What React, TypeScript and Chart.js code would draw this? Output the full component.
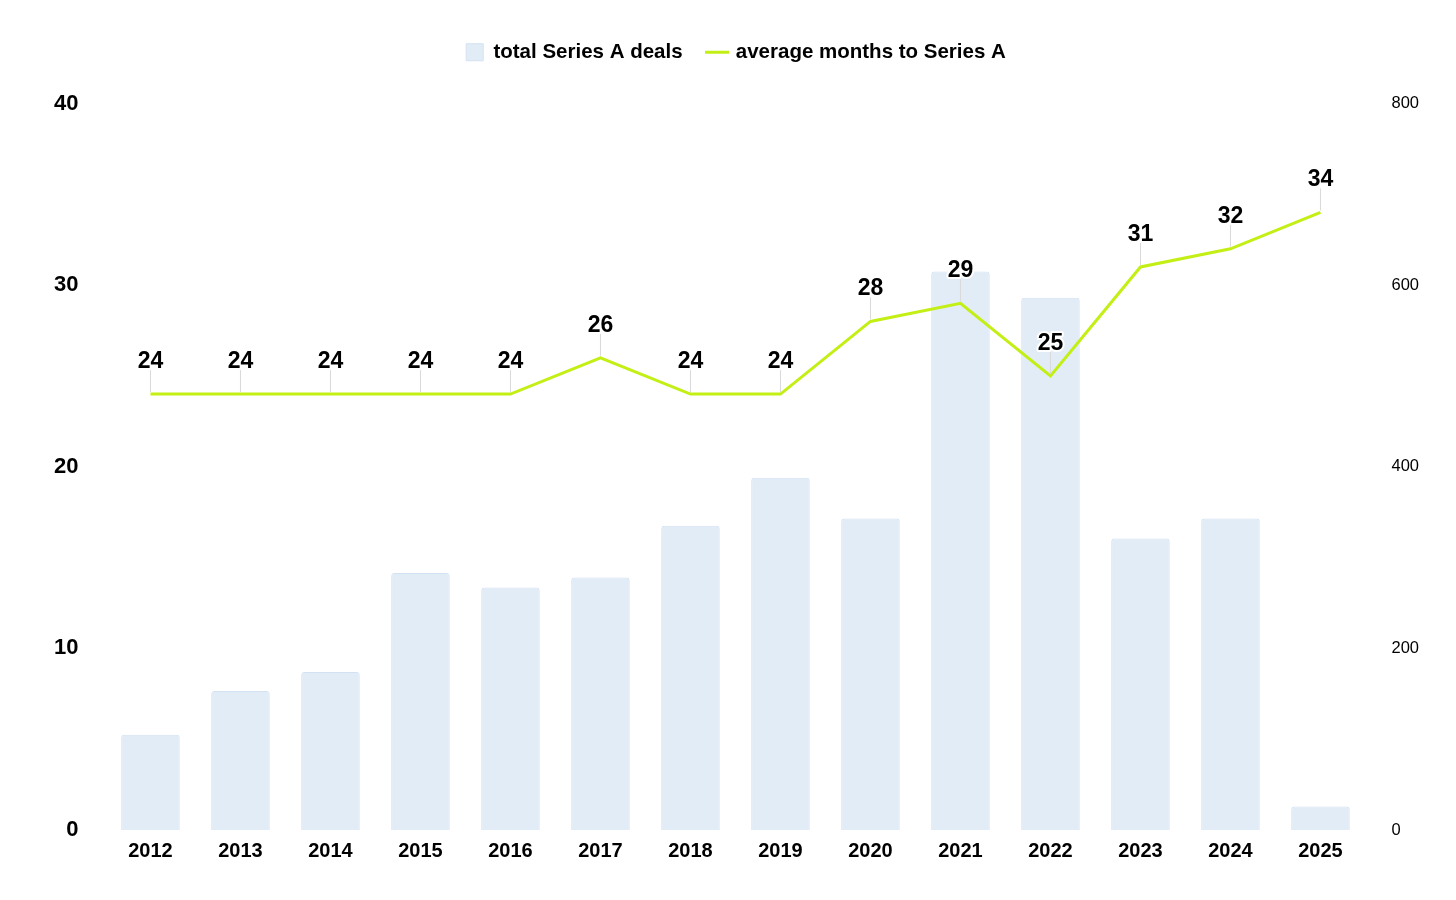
import { useEffect, useRef } from 'react'
import Chart from 'chart.js/auto'

const years = ['2012', '2013', '2014', '2015', '2016', '2017', '2018', '2019', '2020', '2021', '2022', '2023', '2024', '2025']
const totalDeals = [105, 153, 174, 283, 267, 278, 335, 388, 343, 615, 586, 321, 343, 26]
const avgMonths = [24, 24, 24, 24, 24, 26, 24, 24, 28, 29, 25, 31, 32, 34]

const FONT = '"Liberation Sans", Arial, sans-serif'

// labels above each point of the line, with a thin leader line
const pointLabels = {
  id: 'pointLabels',
  afterDatasetsDraw(chart: any) {
    const meta = chart.getDatasetMeta(1)
    const ctx = chart.ctx
    ctx.save()
    meta.data.forEach((pt: any, i: number) => {
      const x = pt.x
      const y = pt.y
      ctx.strokeStyle = '#d9d9d9'
      ctx.lineWidth = 1
      ctx.beginPath()
      ctx.moveTo(x, y - 2)
      ctx.lineTo(x, y - 24)
      ctx.stroke()
      ctx.font = `bold 23px ${FONT}`
      ctx.textAlign = 'center'
      ctx.textBaseline = 'alphabetic'
      ctx.lineJoin = 'round'
      ctx.strokeStyle = '#ffffff'
      ctx.lineWidth = 4
      const t = String(avgMonths[i])
      ctx.strokeText(t, x, y - 26)
      ctx.fillStyle = '#000000'
      ctx.fillText(t, x, y - 26)
    })
    ctx.restore()
  },
}

// extra room between legend and plot
const legendGap = {
  id: 'legendGap',
  beforeInit(chart: any) {
    const fit = chart.legend.fit
    chart.legend.fit = function () {
      fit.bind(chart.legend)()
      this.height += 31
    }
  },
}

const ComboChart = () => {
  const chartRef = useRef<any>(null)

  useEffect(() => {
    const ctx = chartRef.current.getContext('2d')
    const chart = new Chart(ctx, {
      type: 'bar',
      data: {
        labels: years,
        datasets: [
          {
            type: 'bar',
            label: 'total Series A deals',
            data: totalDeals,
            yAxisID: 'yDeals',
            backgroundColor: '#e1ecf7',
            borderColor: '#d3e2f2',
            borderWidth: 1,
            borderRadius: 3,
            borderSkipped: 'bottom',
            categoryPercentage: 1,
            barPercentage: 0.65,
            pointStyle: 'rect',
            order: 2,
          },
          {
            type: 'line',
            label: 'average months to Series A',
            data: avgMonths,
            yAxisID: 'yMonths',
            borderColor: '#c3ef14',
            backgroundColor: '#c3ef14',
            borderWidth: 3,
            pointRadius: 0,
            tension: 0,
            pointStyle: 'line',
            order: 1,
          },
        ],
      },
      options: {
        animation: false,
        responsive: true,
        maintainAspectRatio: false,
        layout: { padding: { top: 8, left: 27, right: 11, bottom: 28 } },
        plugins: {
          legend: {
            position: 'top',
            labels: {
              usePointStyle: true,
              boxWidth: 17,
              boxHeight: 17,
              padding: 26,
              color: '#000',
              font: { family: FONT, size: 20.5, weight: 'bold' },
              sort: (a: any, b: any) => a.datasetIndex - b.datasetIndex,
            },
          },
          tooltip: { enabled: false },
        },
        scales: {
          x: {
            grid: { display: false },
            border: { display: false },
            ticks: {
              color: '#000',
              padding: 1,
              font: { family: FONT, size: 20, weight: 'bold' },
            },
          },
          yMonths: {
            position: 'left',
            min: 0,
            max: 40,
            grid: { display: false },
            border: { display: false },
            ticks: {
              stepSize: 10,
              color: '#000',
              padding: 19,
              font: { family: FONT, size: 22, weight: 'bold' },
            },
          },
          yDeals: {
            position: 'right',
            min: 0,
            max: 800,
            grid: { display: false },
            border: { display: false },
            ticks: {
              stepSize: 200,
              color: '#000',
              padding: 18,
              font: { family: FONT, size: 16.5 },
            },
          },
        },
      },
      plugins: [pointLabels, legendGap],
    })

    return () => chart.destroy()
  }, [])

  return (
    <div style={{ width: 1440, height: 884, position: 'relative' }}>
      <canvas ref={chartRef}></canvas>
    </div>
  )
}

export default function App() {
  return <ComboChart />
}
